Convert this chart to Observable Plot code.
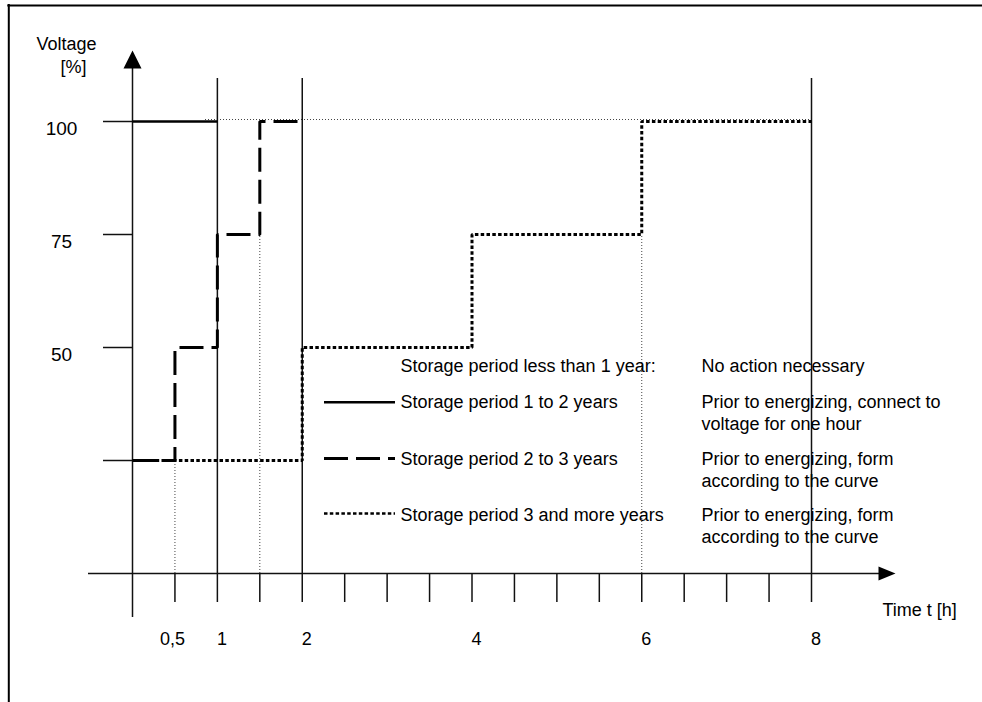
<!DOCTYPE html>
<html>
<head>
<meta charset="utf-8">
<script src="https://cdn.jsdelivr.net/npm/d3@7"></script>
<script src="https://cdn.jsdelivr.net/npm/@observablehq/plot@0.6"></script>
<style>
  html, body { margin: 0; padding: 0; background: #fff; overflow: hidden; }
  svg { display: block; }
</style>
</head>
<body>
<div id="chart"></div>
<script>
// ---- data ----
const timeTicks = [0.5, 1, 1.5, 2, 2.5, 3, 3.5, 4, 4.5, 5, 5.5, 6, 6.5, 7, 7.5, 8];
const timeLabelValues = [0.5, 1, 2, 4, 6, 8];
const timeLabels = ["0,5", "1", "2", "4", "6", "8"];
const voltageTicks = [25, 50, 75, 100];
const voltageLabelValues = [50, 75, 100];
const voltageLabels = ["50", "75", "100"];
const majorTimes = [1, 2, 8];

// series 1: storage 1 to 2 years (solid)
const s1Time = [0, 1];
const s1Volt = [100, 100];
// series 2: storage 2 to 3 years (dashed)
const s2Time = [0, 0.5, 1, 1.5, 2];
const s2Volt = [25, 50, 75, 100, 100];
// series 3: storage 3 and more years (dotted)
const s3Time = [0, 2, 4, 6, 8];
const s3Volt = [25, 50, 75, 100, 100];

const legendLabels = [
  "Storage period less than 1 year:",
  "Storage period 1 to 2 years",
  "Storage period 2 to 3 years",
  "Storage period 3 and more years"
];
const legendNotes = [
  ["No action necessary"],
  ["Prior to energizing, connect to", "voltage for one hour"],
  ["Prior to energizing, form", "according to the curve"],
  ["Prior to energizing, form", "according to the curve"]
];

// ---- layout ----
const W = 982, H = 702;
const ML = 132, MR = 171, MT = 121, MB = 129;
const pxPerX = (W - ML - MR) / 8;
const pxPerY = (H - MT - MB) / 100;
const px2x = p => (p - ML) / pxPerX;
const px2y = p => (H - MB - p) / pxPerY;

const rowY = [366, 401.5, 458.5, 515];
const lineGap = 22;
const font = "'Liberation Sans', Arial, Helvetica, sans-serif";

const toRows = (ts, vs) => ts.map((t, i) => ({t, v: vs[i]}));
const s1 = toRows(s1Time, s1Volt);
const s2 = toRows(s2Time, s2Volt);
const s3 = toRows(s3Time, s3Volt);

const noteRows = [];
legendNotes.forEach((lines, i) => lines.forEach((txt, j) => noteRows.push({txt, py: rowY[i] + j * lineGap})));

const upArrow = { draw(c) { c.moveTo(0, -9); c.lineTo(9, 9); c.lineTo(-9, 9); c.closePath(); } };
const rightArrow = { draw(c) { c.moveTo(8.5, 0); c.lineTo(-8.5, -7); c.lineTo(-8.5, 7); c.closePath(); } };

const thin = {stroke: "#444", strokeWidth: 1, strokeDasharray: "1,2"};
const axisStroke = {stroke: "#111", strokeWidth: 1.5};
const lineOpts = {x: "t", y: "v", curve: "step-after", stroke: "black", strokeLinecap: "butt", strokeLinejoin: "miter"};
const txt = {fontSize: 18, fontFamily: font, fill: "black"};

const chart = Plot.plot({
  width: W, height: H,
  marginLeft: ML, marginRight: MR, marginTop: MT, marginBottom: MB,
  x: {domain: [0, 8], axis: null},
  y: {domain: [0, 100], axis: null},
  style: {background: "white", overflow: "hidden", fontFamily: font},
  marks: [
    // frame
    Plot.ruleY([px2y(5)], {x1: px2x(7.3), x2: px2x(W), stroke: "black", strokeWidth: 2}),
    Plot.ruleX([px2x(8.3)], {y1: px2y(4), y2: px2y(H), stroke: "black", strokeWidth: 2}),
    // thin dotted guides
    Plot.ruleY([100], {x1: px2x(205), x2: 8, dy: -2, ...thin}),
    Plot.ruleX([0.5], {y1: 0, y2: 25, ...thin}),
    Plot.ruleX([1.5], {y1: 0, y2: 75, ...thin}),
    Plot.ruleX([6], {y1: 0, y2: 75, ...thin}),
    // major vertical lines
    Plot.ruleX(majorTimes, {y1: 0, y2: px2y(78), ...axisStroke}),
    // axes
    Plot.ruleY([0], {x1: px2x(88), x2: px2x(880), ...axisStroke}),
    Plot.ruleX([0], {y1: px2y(617), y2: px2y(68), ...axisStroke}),
    Plot.ruleX(timeTicks, {y1: 0, y2: px2y(602), ...axisStroke}),
    Plot.ruleY(voltageTicks, {x1: px2x(103), x2: 0, ...axisStroke}),
    // arrows
    Plot.dot([0], {x: d => d, y: px2y(59), symbol: upArrow, fill: "black", stroke: null}),
    Plot.dot([0], {x: px2x(886.5), y: d => d, symbol: rightArrow, fill: "black", stroke: null}),
    // series
    Plot.line(s3, {...lineOpts, strokeWidth: 3, strokeDasharray: "3.5,2.3"}),
    Plot.line(s2, {...lineOpts, strokeWidth: 3, strokeDasharray: "24,8"}),
    Plot.line(s1, {...lineOpts, strokeWidth: 2.6}),
    // legend samples
    Plot.ruleY([px2y(401.7)], {x1: px2x(324), x2: px2x(395), stroke: "black", strokeWidth: 2.6}),
    Plot.ruleY([px2y(458)], {x1: px2x(324), x2: px2x(395), stroke: "black", strokeWidth: 3, strokeDasharray: "24,8"}),
    Plot.ruleY([px2y(513)], {x1: px2x(324), x2: px2x(395), stroke: "black", strokeWidth: 2.5, strokeDasharray: "3.5,2.3"}),
    // legend texts
    Plot.text(legendLabels, {x: px2x(400), y: (d, i) => px2y(rowY[i]), text: d => d, textAnchor: "start", ...txt}),
    Plot.text(noteRows, {x: px2x(701), y: d => px2y(d.py), text: "txt", textAnchor: "start", ...txt}),
    // tick labels
    Plot.text(timeLabelValues, {x: d => d, y: px2y(638.5), text: (d, i) => timeLabels[i], ...txt}),
    Plot.text(voltageLabelValues, {x: px2x(61), y: d => d, dy: 7, text: (d, i) => voltageLabels[i], ...txt, fontSize: 19}),
    // axis titles
    Plot.text(["Voltage"], {x: px2x(36), y: px2y(44), text: d => d, textAnchor: "start", ...txt}),
    Plot.text(["[%]"], {x: px2x(60), y: px2y(67), text: d => d, textAnchor: "start", ...txt}),
    Plot.text(["Time t [h]"], {x: px2x(882), y: px2y(609.5), text: d => d, textAnchor: "start", ...txt})
  ]
});
document.getElementById("chart").append(chart);

// shift x tick labels to match reference offsets
chart.querySelectorAll("text").forEach(t => {
  const s = t.textContent;
  if (s === "0,5") t.setAttribute("dx", "-2.5");
  else if (["1", "2", "4", "6", "8"].includes(s)) t.setAttribute("dx", "4.5");
});
</script>
</body>
</html>
